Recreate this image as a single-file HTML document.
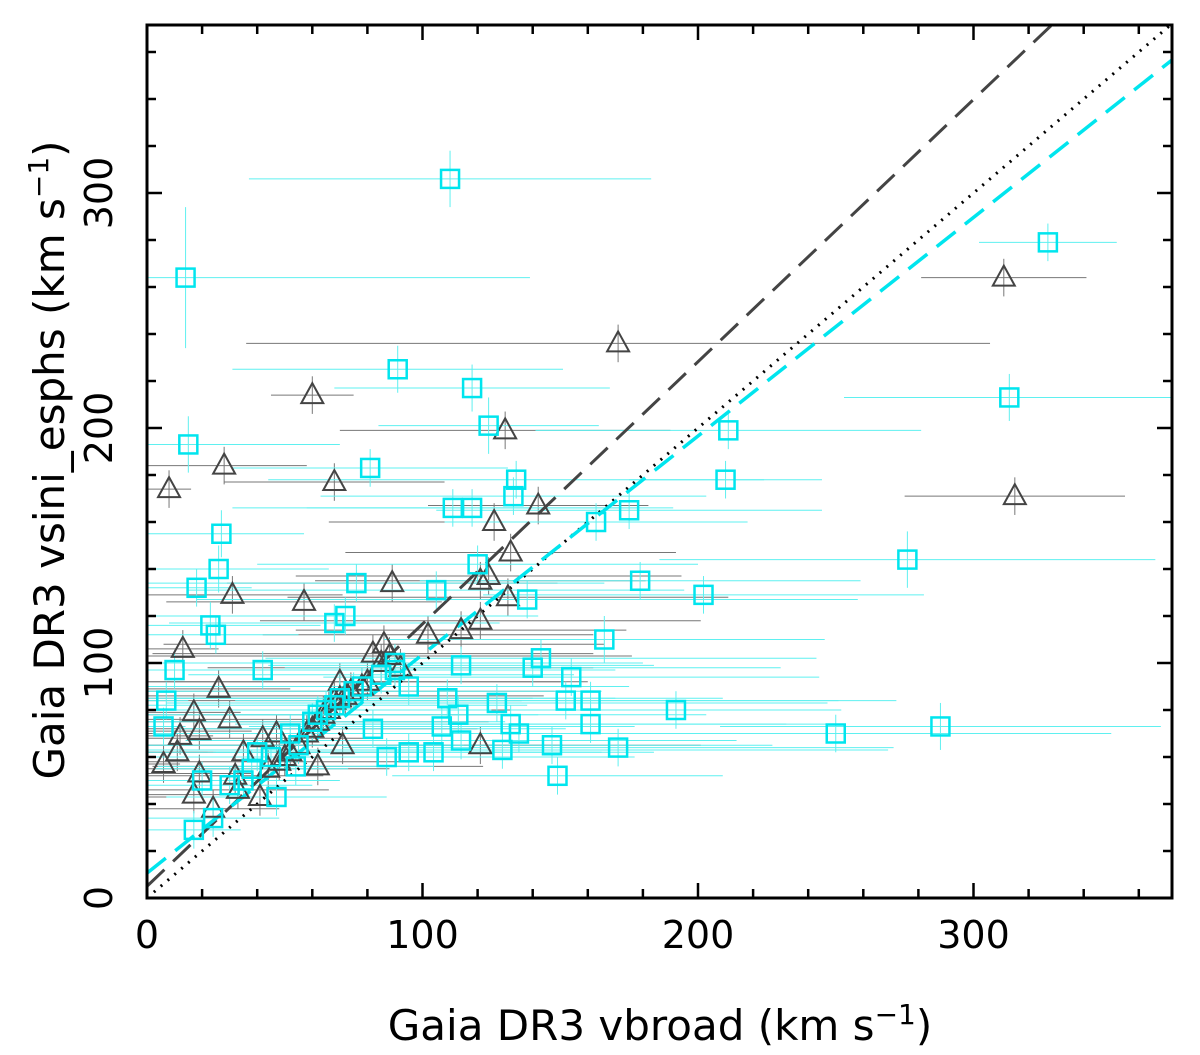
<!DOCTYPE html>
<html><head><meta charset="utf-8"><style>
body{margin:0;background:#fff;}
svg{display:block;font-family:"DejaVu Sans","Liberation Sans",sans-serif;}
</style></head><body>
<svg id="chart" width="1200" height="1055"></svg>
<script>
const cyanX=[110,14,327,15,91,118,124,211,313,81,210,134,133,111,118,175,163,27,276,120,26,179,76,18,105,202,138,23,25,68,72,166,10,143,140,154,90,114,7,161,152,127,192,109,6,288,250,161,171,147,149,129,132,135,95,104,87,17,24,47,54,113,107,114,55,60,65,70,75,52,62,68,45,38,35,40,30,78,85,90,95,82,42,20];
const cyanY=[306,264,279,193,225,217,201,199,213,183,178,178,171,166,166,165,160,155,144,142,140,135,134,132,131,129,127,116,112,117,120,110,97,102,98,94,97,99,84,84,84,83,80,85,73,73,70,74,64,65,52,63,74,70,62,62,60,29,34,43,56,78,73,67,65,75,80,85,88,70,78,82,60,55,50,62,48,90,95,100,90,72,97,50];
const cyanXerr=[73,125,25,55,60,50,40,70,60,50,35,90,70,80,60,70,55,30,90,80,40,80,90,20,90,80,120,40,30,60,70,80,12,100,90,90,80,70,8,90,120,120,60,100,8,80,100,90,100,80,60,140,100,80,70,80,90,17,24,40,50,90,70,100,60,70,60,100,90,50,80,70,40,35,35,40,30,80,70,90,80,70,42,20];
const cyanYerr=[12,30,8,12,10,10,12,8,10,8,8,8,8,8,8,8,8,10,12,8,10,8,8,8,8,8,8,10,8,8,8,10,8,8,8,8,8,8,8,8,8,8,8,8,8,10,8,8,8,8,8,8,8,8,8,8,8,8,8,8,8,8,8,8,8,8,8,8,8,8,8,8,8,8,8,8,8,8,8,8,8,8,8,8];
const greyX=[8,28,60,171,311,315,68,130,142,126,132,124,121,131,31,57,13,89,102,114,121,70,86,26,17,19,30,12,6,11,19,17,24,33,32,35,42,41,121,71,62,82,92,50,55,58,62,66,70,74,78,52,60,64,68,72,48,44,80,85,88,47];
const greyY=[174,184,214,236,264,171,177,199,167,160,147,137,135,128,129,126,106,134,112,114,118,92,108,89,79,71,76,69,57,62,53,44,38,46,52,62,68,43,65,65,56,104,98,60,65,70,75,80,85,88,90,62,72,78,84,86,58,55,92,100,103,70];
const greyXerr=[8,30,15,135,30,40,40,60,40,60,60,70,60,80,40,50,13,60,60,60,80,80,80,26,17,19,30,12,6,11,19,17,24,33,32,35,42,41,80,80,60,80,70,50,55,58,62,66,70,74,78,52,60,64,68,72,48,44,80,85,88,47];
const xTicks=[0,100,200,300];
const yTicks=[0,100,200,300];
const blackFit=[5,1.116], cyanFit=[10.6,0.93];

const L=147,R=1172,T=25,B=898;
const sx=v=>L+v*2.755, sy=v=>B-v*2.35;
const NS="http://www.w3.org/2000/svg";
const svg=document.getElementById('chart');
function mk(tag,a,parent){const e=document.createElementNS(NS,tag);for(const k in a)e.setAttribute(k,a[k]);(parent||svg).appendChild(e);return e;}
const clip=mk('clipPath',{id:'c'});mk('rect',{x:L,y:T,width:R-L,height:B-T},clip);
const g=mk('g',{'clip-path':'url(#c)'});


function ebars(xs,ys,xe,ye,col,w){for(let i=0;i<xs.length;i++){
 const l=mk('line',{x1:sx(Math.max(0,xs[i]-xe[i])),x2:sx(xs[i]+xe[i]),y1:sy(ys[i]),y2:sy(ys[i]),stroke:col,'stroke-width':w},g);
 
 
 const v=ye?ye[i]:8;
 const l2=mk('line',{x1:sx(xs[i]),x2:sx(xs[i]),y1:sy(ys[i]-v),y2:sy(ys[i]+v),stroke:col,'stroke-width':w},g);
 
 
}}
ebars(greyX,greyY,greyXerr,null,'#777',1);
ebars(cyanX,cyanY,cyanXerr,cyanYerr,'#5ff0f0',1);
const l1=mk('line',{x1:sx(0),y1:sy(0),x2:sx(372),y2:sy(372),stroke:'#000','stroke-width':3,'stroke-dasharray':'2 7'},g);


const l2=mk('line',{x1:sx(0),y1:sy(blackFit[0]),x2:sx(372),y2:sy(blackFit[0]+blackFit[1]*372),stroke:'#444','stroke-width':3,'stroke-dasharray':'24 12'},g);


const l3=mk('line',{x1:sx(0),y1:sy(cyanFit[0]),x2:sx(372),y2:sy(cyanFit[0]+cyanFit[1]*372),stroke:'#00e5ee','stroke-width':3.5,'stroke-dasharray':'24 12'},g);


for(let i=0;i<greyX.length;i++){const x=sx(greyX[i]),y=sy(greyY[i]);
 const p=mk('polygon',{points:`${x},${y-12} ${x-11},${y+8} ${x+11},${y+8}`,fill:'none',stroke:'#444','stroke-width':2},g);
 
 }
for(let i=0;i<cyanX.length;i++){const x=sx(cyanX[i]),y=sy(cyanY[i]);
 const r=mk('rect',{x:x-9,y:y-9,width:18,height:18,fill:'none',stroke:'#00e5ee','stroke-width':2.5},g);
 
 }
const fr=mk('rect',{x:L,y:T,width:R-L,height:B-T,fill:'none',stroke:'#000','stroke-width':3});


for(let v=0;v<=360;v+=20){const maj=v%100===0,len=maj?15:9;
 const x=sx(v);
 mk('line',{x1:x,x2:x,y1:B,y2:B-len,stroke:'#000','stroke-width':2.5});
 mk('line',{x1:x,x2:x,y1:T,y2:T+len,stroke:'#000','stroke-width':2.5});
 const y=sy(v); if(y>=T){
 mk('line',{x1:L,x2:L+len,y1:y,y2:y,stroke:'#000','stroke-width':2.5});
 mk('line',{x1:R,x2:R-len,y1:y,y2:y,stroke:'#000','stroke-width':2.5});}
}
for(const v of xTicks){const t=mk('text',{x:sx(v),y:948,'font-size':38,'text-anchor':'middle'});t.textContent=v;
 
 }
for(const v of yTicks){const y=sy(v);const t=mk('text',{x:0,y:0,'font-size':38,'text-anchor':'middle',transform:`translate(112,${y}) rotate(-90)`});t.textContent=v;
 
 }
const xt=mk('text',{x:660,y:1040,'font-size':42,'text-anchor':'middle'});
xt.innerHTML='Gaia DR3 vbroad (km s<tspan dy="-16" font-size="28">−1</tspan><tspan dy="16">)</tspan>';


const yt=mk('text',{x:0,y:0,'font-size':42,'text-anchor':'middle',transform:'translate(64,460) rotate(-90)'});
yt.innerHTML='Gaia DR3 vsini_esphs (km s<tspan dy="-16" font-size="28">−1</tspan><tspan dy="16">)</tspan>';


</script>
</body></html>
